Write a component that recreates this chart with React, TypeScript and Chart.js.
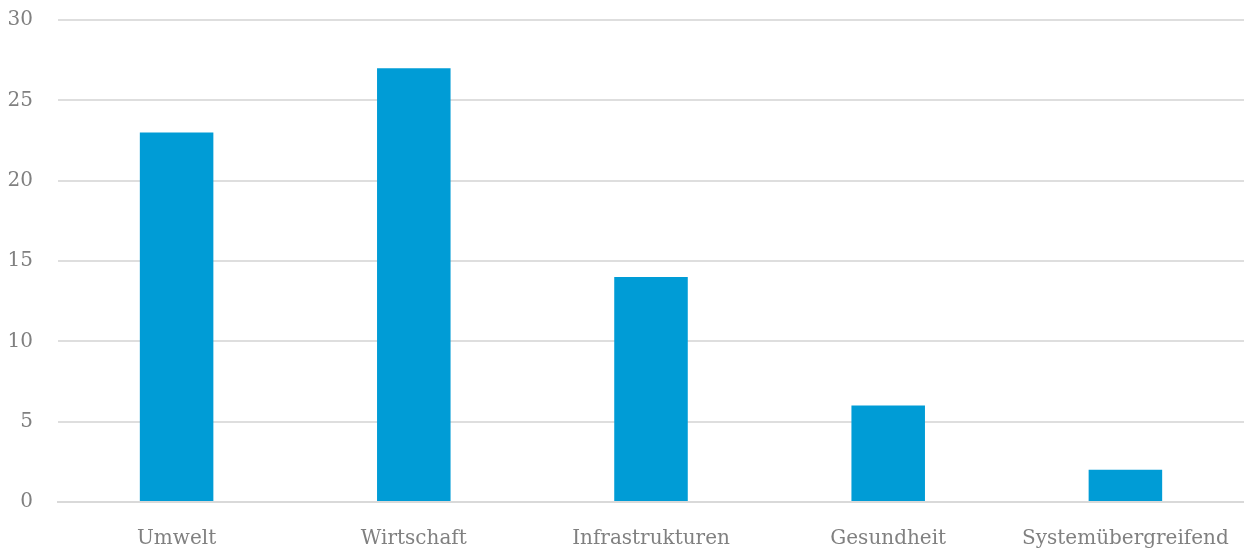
import React, { useEffect, useRef } from "react";
import { Chart, registerables } from "chart.js";

Chart.register(...registerables);

const categories = ["Umwelt", "Wirtschaft", "Infrastrukturen", "Gesundheit", "Systemübergreifend"];
const values = [23, 27, 14, 6, 2];
const yTicks = [0, 5, 10, 15, 20, 25, 30];

export default function App() {
  const ref = useRef<HTMLCanvasElement>(null);
  useEffect(() => {
    const font = { family: "'DejaVu Serif', serif", size: 20 };
    const chart = new Chart(ref.current!, {
      type: "bar",
      data: {
        labels: categories,
        datasets: [
          {
            data: values,
            backgroundColor: "#009CD6",
            categoryPercentage: 1,
            barPercentage: 0.31,
          },
        ],
      },
      options: {
        animation: false,
        responsive: true,
        maintainAspectRatio: false,
        layout: { padding: { left: 0, right: 0, top: 20, bottom: -24 } },
        plugins: { legend: { display: false }, tooltip: { enabled: false } },
        scales: {
          x: {
            afterFit: (axis: any) => {
              axis.paddingLeft = 0;
              axis.paddingRight = 0;
            },
            grid: { display: false, drawTicks: false },
            border: { display: true, color: "#d9d9d9", width: 2 },
            ticks: { color: "#808080", font, padding: 25, maxRotation: 0 },
          },
          y: {
            min: 0,
            max: 30,
            afterBuildTicks: (axis: any) => {
              axis.ticks = yTicks.map((v) => ({ value: v }));
            },
            afterFit: (axis: any) => {
              axis.width = 58;
              axis.paddingTop = 0;
              axis.paddingBottom = 0;
            },
            grid: { color: "#dedede", lineWidth: 2, drawTicks: false },
            border: { display: false },
            ticks: { color: "#808080", font, padding: 25 },
          },
        },
      },
    });
    return () => chart.destroy();
  }, []);
  return (
    <div style={{ position: "fixed", left: 0, top: 0, width: 1244, height: 552 }}>
      <canvas ref={ref} />
    </div>
  );
}
